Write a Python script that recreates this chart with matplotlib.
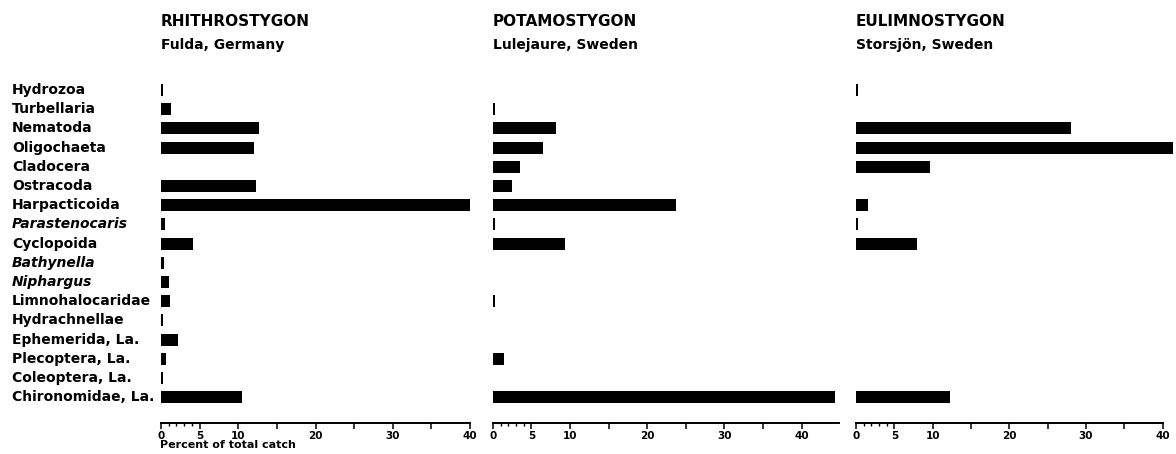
import matplotlib
matplotlib.use("Agg")
import matplotlib.pyplot as plt
from matplotlib.ticker import FixedLocator, FixedFormatter

# Taxa, top to bottom
taxa = ["Hydrozoa", "Turbellaria", "Nematoda", "Oligochaeta", "Cladocera",
        "Ostracoda", "Harpacticoida", "Parastenocaris", "Cyclopoida",
        "Bathynella", "Niphargus", "Limnohalocaridae", "Hydrachnellae",
        "Ephemerida, La.", "Plecoptera, La.", "Coleoptera, La.",
        "Chironomidae, La."]
italic_taxa = ["Parastenocaris", "Bathynella", "Niphargus"]

# Percent of total catch per habitat (0 = not recorded)
rhithro = [0.25, 1.25, 12.7, 12.1, 0, 12.3, 40.0, 0.5, 4.1, 0.4, 1.1,
           1.2, 0.3, 2.2, 0.6, 0.3, 10.5]
potamo = [0, 0.25, 8.2, 6.5, 3.5, 2.5, 23.7, 0.25, 9.4, 0, 0,
          0.25, 0, 0, 1.4, 0, 44.3]
eulimno = [0.25, 0, 28.1, 41.3, 9.7, 0, 1.5, 0.25, 8.0, 0, 0,
           0, 0, 0, 0, 0, 12.3]

titles = ["RHITHROSTYGON", "POTAMOSTYGON", "EULIMNOSTYGON"]
subtitles = ["Fulda, Germany", "Lulejaure, Sweden", "Storsjön, Sweden"]
major_ticks = [0, 5, 10, 15, 20, 25, 30, 35, 40]
tick_labels = ["0", "5", "10", "", "20", "", "30", "", "40"]
minor_ticks = [1, 2, 3, 4]
xlabel = "Percent of total catch"

W, H = 1176, 454
fig = plt.figure(figsize=(W / 100, H / 100), dpi=100)
plt.rcParams["font.family"] = "DejaVu Sans"

# panel geometry in pixels: (left, width, xmax)
panels = [(161, 309, 40.0), (492.8, 346, 44.8), (856, 306.7, 40.0)]
top_px, bottom_px = 80.4, 423
series = [rhithro, potamo, eulimno]

for k, ((lp, wp, xmax), vals) in enumerate(zip(panels, series)):
    ax = fig.add_axes([lp / W, 1 - bottom_px / H, wp / W, (bottom_px - top_px) / H])
    ys = list(range(len(taxa)))
    ax.barh(ys, vals, height=0.62, color="black", clip_on=False)
    ax.set_xlim(0, xmax)
    ax.set_ylim(17.34, -0.5)
    for s in ["top", "right", "left"]:
        ax.spines[s].set_visible(False)
    ax.spines["bottom"].set_linewidth(1.4)
    ax.set_yticks([])
    ax.xaxis.set_major_locator(FixedLocator(major_ticks))
    ax.xaxis.set_major_formatter(FixedFormatter(tick_labels))
    ax.xaxis.set_minor_locator(FixedLocator(minor_ticks))
    ax.tick_params(axis="x", which="major", length=4, width=1.1, pad=2,
                   labelsize=7.5)
    ax.tick_params(axis="x", which="minor", length=2.5, width=1.0)
    for t in ax.get_xticklabels():
        t.set_fontweight("bold")
    fig.text(lp / W, 1 - 22 / H, titles[k], fontsize=11, fontweight="bold",
             ha="left", va="center")
    fig.text(lp / W, 1 - 45 / H, subtitles[k], fontsize=10, fontweight="bold",
             ha="left", va="center")

# category labels on the left
for i, name in enumerate(taxa):
    ypx = 90 + 19.2 * i
    fig.text(12 / W, 1 - ypx / H, name, fontsize=10, fontweight="bold",
             style="italic" if name in italic_taxa else "normal",
             ha="left", va="center")

fig.text(160 / W, 1 - 445 / H, xlabel, fontsize=8, fontweight="bold",
         ha="left", va="center")

fig.savefig("out.png", dpi=100, facecolor="white")
